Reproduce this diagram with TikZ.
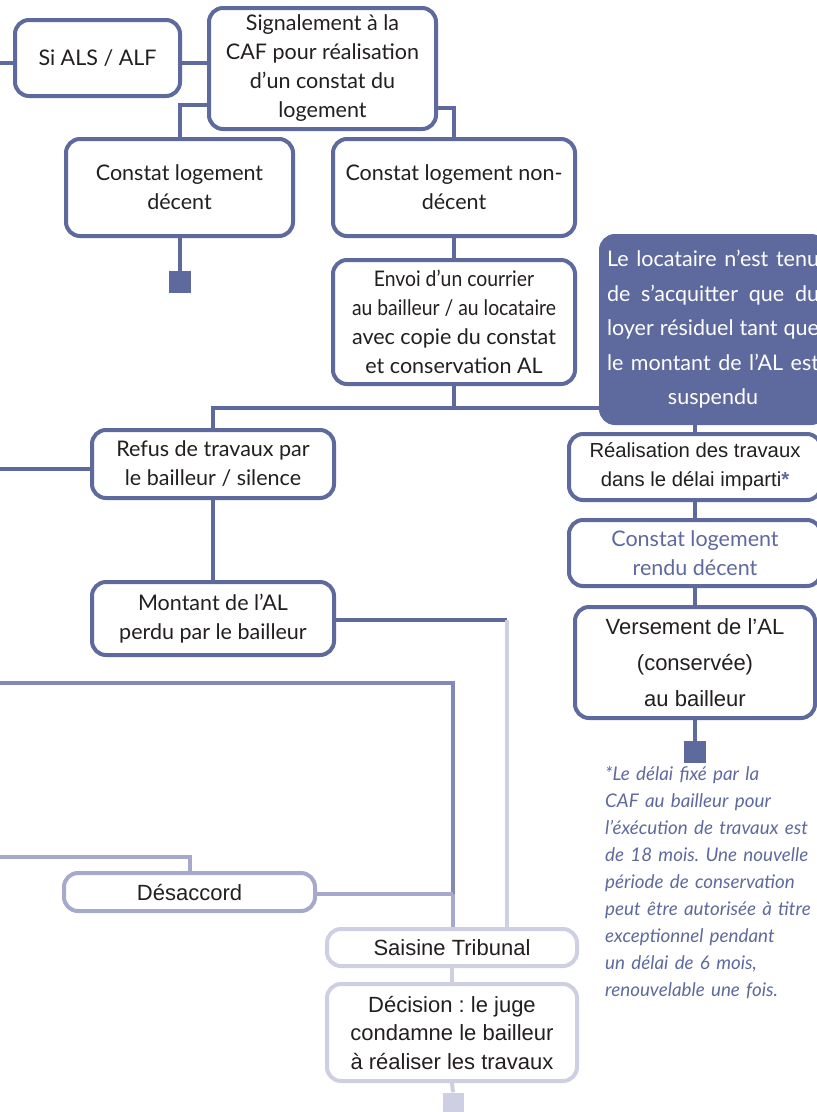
\documentclass[tikz,border=0pt]{standalone}
\usepackage{fontspec}
\setmainfont{Lato}
\newfontfamily\gilln[FakeStretch=0.9]{Lato}
\newfontfamily\arialf{Liberation Sans}
\usetikzlibrary{calc}
\definecolor{dk}{HTML}{5E699D}
\definecolor{md}{HTML}{8388B6}
\definecolor{lm}{HTML}{A6A8CC}
\definecolor{lt}{HTML}{CFCFE3}
\definecolor{tx}{HTML}{231F20}
\frenchspacing
\begin{document}
\begin{tikzpicture}[x=1pt,y=-1pt,
  box/.style={draw=dk, line width=4pt, rounded corners=14pt, fill=white, inner sep=0pt, align=center, text=tx},
  gill/.style={font=\fontsize{21.5}{29}\selectfont},
  ari/.style={font=\arialf\fontsize{22}{28.5}\selectfont},
  conn/.style={line width=4pt, line join=miter},
  sq/.style={inner sep=0pt, minimum size=22pt, fill=dk}]
\useasboundingbox (0,0) rectangle (817,1112);
\clip (0,0) rectangle (817,1112);

% nodes
\node[box, gill, minimum width=165, minimum height=76] (als) at (97.5,58) {Si ALS / ALF};
\node[box, gill, minimum width=227, minimum height=121] (signal) at (322.5,68.5) {Signalement à la\\CAF pour réalisation\\d’un constat du\\logement};
\node[box, gill, minimum width=227, minimum height=97] (decent) at (179.5,187.5) {Constat logement\\décent};
\node[box, gill, minimum width=242, minimum height=97] (nondecent) at (454,187.5) {Constat logement non-\\décent};
\node[box, gill, minimum width=242, minimum height=124] (envoi) at (454,322) {{\gilln Envoi d’un courrier}\\{\gilln au bailleur / au locataire}\\avec copie du constat\\et conservation AL};
\node[draw=dk, fill=dk, line width=4pt, rounded corners=14pt, anchor=north west, inner xsep=6pt, inner ysep=0pt, text width=212pt, minimum height=187pt, text=white, align=justify, font=\fontsize{21.5}{34.5}\selectfont] (dark) at (599,234) {Le locataire n’est tenu\linebreak de s’acquitter que du\linebreak loyer résiduel tant que\linebreak le montant de l’AL est\linebreak\hspace*{\fill}suspendu\hspace*{\fill}};
\node[box, ari, font=\arialf\fontsize{20.3}{29}\selectfont, minimum width=252, minimum height=66] (real) at (695,467) {Réalisation des travaux\\dans le délai imparti{\color{dk}\textbf{*}}};
\node[box, gill, text=dk, minimum width=252, minimum height=66] (rendu) at (695,553) {Constat logement\\rendu décent};
\node[box, ari, font=\arialf\fontsize{22}{36}\selectfont, minimum width=240, minimum height=111] (vers) at (695,662.5) {Versement de l’AL\\(conservée)\\au bailleur};
\node[box, gill, minimum width=242, minimum height=68] (refus) at (213,464) {Refus de travaux par\\le bailleur / silence};
\node[box, gill, minimum width=242, minimum height=73] (montant) at (213,618.5) {Montant de l’AL\\perdu par le bailleur};
\node[box, ari, draw=lm, minimum width=251, minimum height=38] (desacc) at (189.5,892) {Désaccord};
\node[box, ari, draw=lt, minimum width=250, minimum height=37] (saisine) at (452,947.5) {Saisine Tribunal};
\node[box, ari, draw=lt, minimum width=250, minimum height=97] (decision) at (452,1032.5) {Décision : le juge\\condamne le bailleur\\à réaliser les travaux};
\node[sq] (sq1) at (179.5,282) {};
\node[sq] (sq2) at (695,752) {};
\node[sq, fill=lt, minimum size=21pt] (sq3) at (453,1103) {};

\node[anchor=north west, inner sep=0pt, text width=215pt, align=left, text=dk, font=\itshape\fontsize{18.8}{27}\selectfont] (note) at (605,766) {*Le délai fixé par la\\CAF au bailleur pour\\l’éxécution de travaux est\\de 18 mois. Une nouvelle\\période de conservation\\peut être autorisée à titre\\exceptionnel pendant\\un délai de 6 mois,\\renouvelable une fois.};

% connectors
\coordinate (L0) at (0,63);
\coordinate (J1) at (180,105);
\coordinate (J2) at (454,108);
\coordinate (J3) at (454,408);
\coordinate (L1) at (0,469);
\coordinate (C2) at (507,620);
\coordinate (L2) at (0,683);
\coordinate (C3) at (453,683);
\coordinate (C4) at (453,894);
\coordinate (L3) at (0,857);
\begin{scope}[conn, draw=dk]
\draw (L0) -- (als.west |- L0);
\draw (als.east |- L0) -- (signal.west |- L0);
\draw (signal.west |- J1) -| (decent.north);
\draw (decent.south) -- (sq1.north);
\draw (signal.east |- J2) -| (nondecent.north);
\draw (nondecent.south) -- (envoi.north);
\draw (envoi.south) -- (J3);
\draw (refus.north) |- (dark.west |- J3);
\draw (real.north |- dark.south) -- (real.north);
\draw (real.south) -- (rendu.north);
\draw (rendu.south) -- (vers.north);
\draw (vers.south) -- (sq2.north);
\draw (L1) -- (refus.west |- L1);
\draw (refus.south) -- (montant.north);
\draw (montant.east |- C2) -- (C2);
\end{scope}
\draw[conn, draw=lt, line width=4.5pt] (C2) -- (C2 |- saisine.north);
\draw[conn, draw=md] (L2) -- (C3) -- (C4);
\draw[conn, draw=lm] (C4) -- (C4 |- saisine.north);
\draw[conn, draw=lm] (L3) -| (desacc.north);
\draw[conn, draw=lm] (desacc.east |- C4) -- (C4);
\draw[conn, draw=lt] (saisine.south) -- (decision.north);
\draw[conn, draw=lt] (decision.south) -- (sq3.north);
\end{tikzpicture}
\end{document}
